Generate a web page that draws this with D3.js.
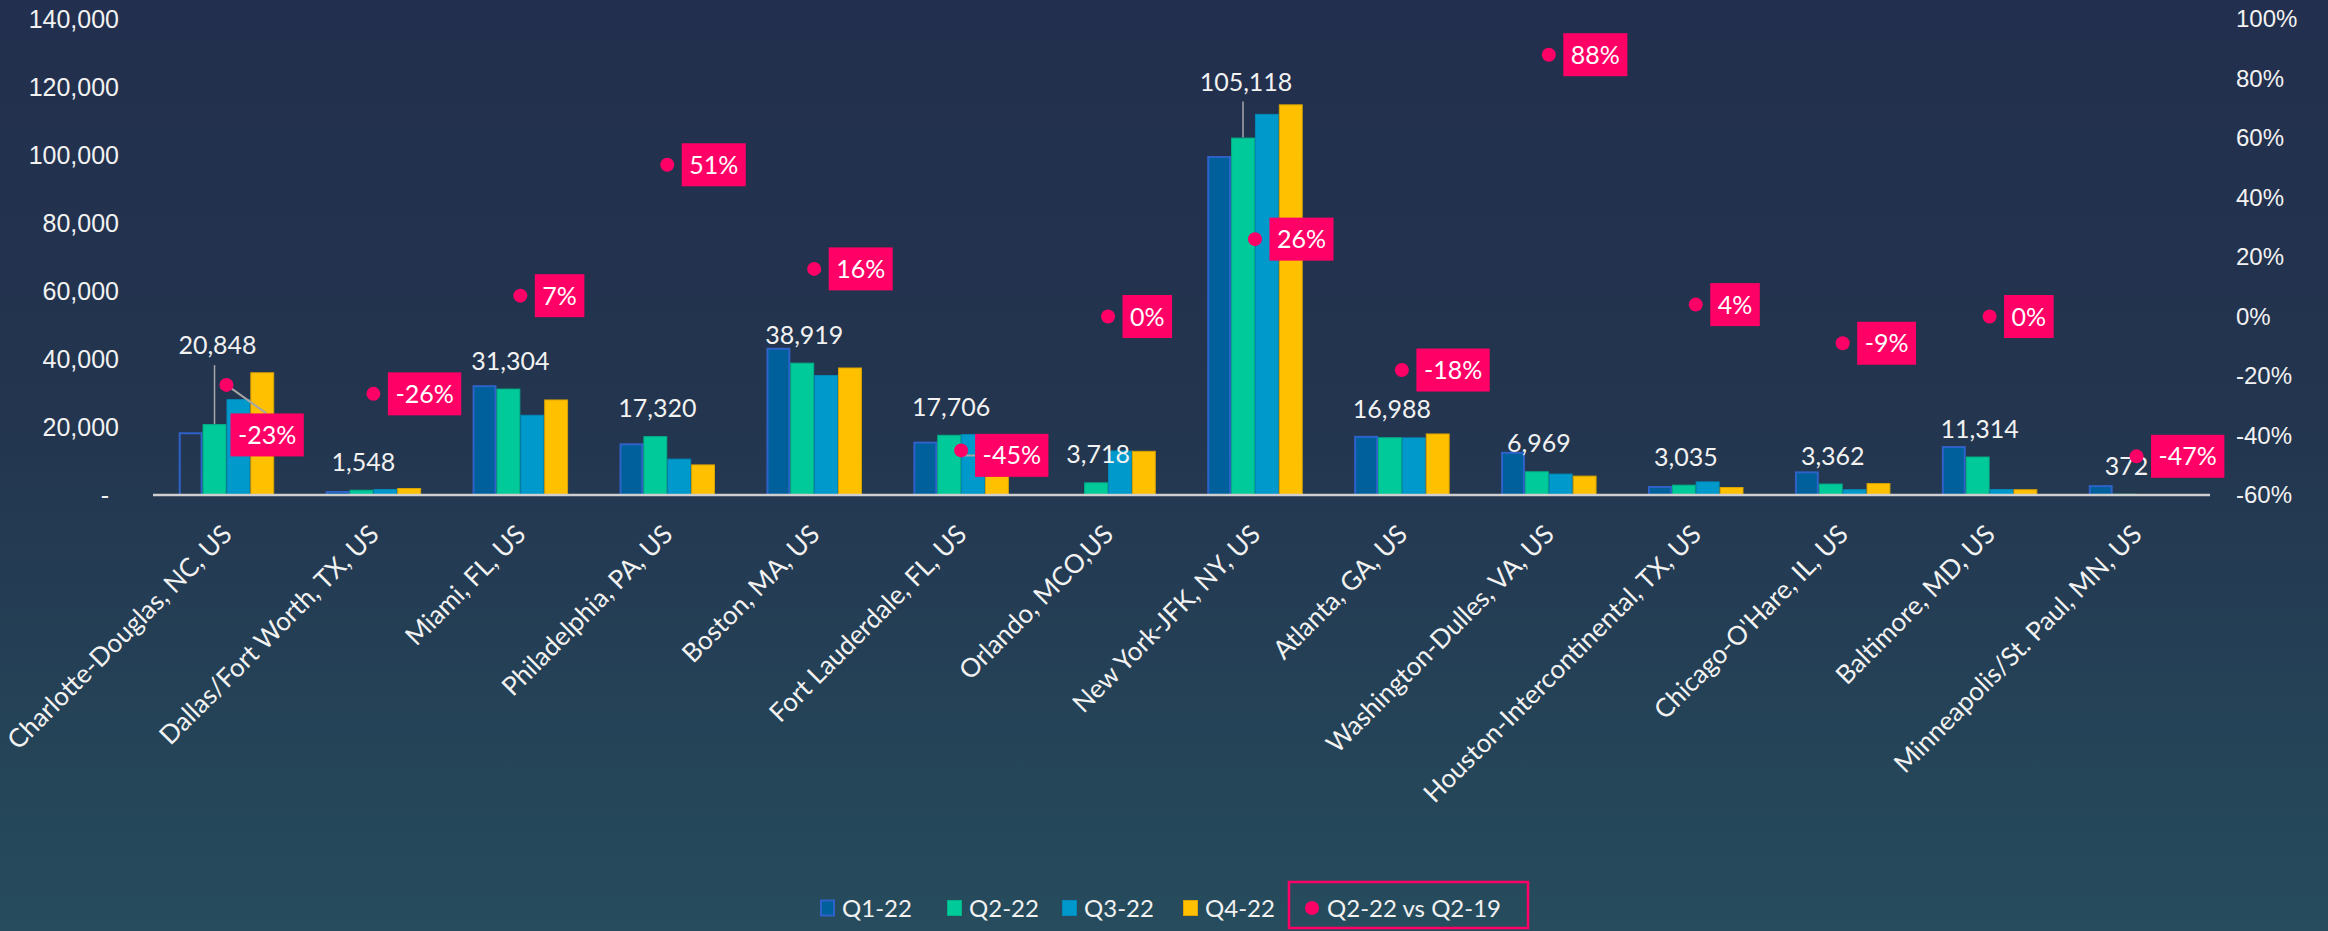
<!DOCTYPE html>
<html>
<head>
<meta charset="utf-8">
<script src="https://cdn.jsdelivr.net/npm/d3@7"></script>
<style>
  body { margin: 0; background: #22304f; }
  svg { display: block; font-family: Lato, "Open Sans", sans-serif; }
</style>
</head>
<body>
<svg id="grafico"></svg>
<script>
// Datos
const aeropuertos = [
  "Charlotte-Douglas, NC, US", "Dallas/Fort Worth, TX, US", "Miami, FL, US",
  "Philadelphia, PA, US", "Boston, MA, US", "Fort Lauderdale, FL, US",
  "Orlando, MCO,US", "New York-JFK, NY, US", "Atlanta, GA, US",
  "Washington-Dulles, VA, US", "Houston-Intercontinental, TX, US",
  "Chicago-O'Hare, IL, US", "Baltimore, MD, US", "Minneapolis/St. Paul, MN, US"
];
const series = ["Q1-22", "Q2-22", "Q3-22", "Q4-22"];
const q1_22 = [18450, 1180, 32300, 15200, 43300, 15700, 0, 99700, 17400, 12700, 2650, 6950, 14400, 2900];
const q2_22 = [20848, 1548, 31304, 17320, 38919, 17706, 3718, 105118, 16988, 6969, 3035, 3362, 11314, 372];
const q3_22 = [28200, 1760, 23600, 10700, 35300, 17900, 13100, 112100, 16950, 6300, 4000, 1700, 1750, 120];
const q4_22 = [36100, 2060, 28100, 9000, 37500, 5600, 13000, 114900, 18100, 5700, 2350, 3500, 1700, 220];
const q2VsQ219 = [-0.23, -0.26, 0.07, 0.51, 0.16, -0.45, 0.00, 0.26, -0.18, 0.88, 0.04, -0.09, 0.00, -0.47];
const ticksIzq = [0, 20000, 40000, 60000, 80000, 100000, 120000, 140000];
const ticksDer = [-0.6, -0.4, -0.2, 0, 0.2, 0.4, 0.6, 0.8, 1.0];
const etiquetaLinea = "Q2-22 vs Q2-19";

const valores = [q1_22, q2_22, q3_22, q4_22];

// Dimensiones
const ancho = 2328, alto = 931;
const margen = { left: 153, right: 118, top: 19, bottom: 436 };
const baseY = alto - margen.bottom;

const colores = ["#00609c", "#00c99a", "#0099cc", "#ffc000"];
const bordes = ["#2f62c8", "#00b288", "#0088b8", "#d9a300"];
const rosa = "#ff0066";

const pct = d => Math.round(d * 100) + "%";

// Ajustes manuales de etiquetas (como en el original)
const subirEtiqueta = { 0: 51, 7: 28 };

const svg = d3.select("#grafico").attr("width", ancho).attr("height", alto);

const grad = svg.append("defs").append("linearGradient")
  .attr("id", "fondo").attr("x1", 0).attr("y1", 0).attr("x2", 0).attr("y2", 1);
grad.append("stop").attr("offset", "0%").attr("stop-color", "#222f4e");
grad.append("stop").attr("offset", "45%").attr("stop-color", "#23354f");
grad.append("stop").attr("offset", "100%").attr("stop-color", "#264c5d");
svg.append("rect").attr("width", ancho).attr("height", alto).attr("fill", "url(#fondo)");

const x0 = d3.scaleBand()
  .domain(aeropuertos)
  .range([margen.left, ancho - margen.right])
  .paddingInner(0.35)
  .paddingOuter(0.175);

const x1 = d3.scaleBand()
  .domain(series)
  .range([0, x0.bandwidth()]);

const y = d3.scaleLinear().domain([0, 140000]).range([baseY, margen.top]);
const yDer = d3.scaleLinear().domain([-0.6, 1.0]).range([baseY, margen.top]);

const centro = a => x0(a) + x0.bandwidth() / 2;

// Ejes
const ejeIzq = svg.append("g")
  .attr("transform", "translate(119,0)")
  .call(d3.axisLeft(y).tickValues(ticksIzq).tickSize(0).tickPadding(0)
    .tickFormat(d => d === 0 ? "-" : d3.format(",")(d)));
ejeIzq.select(".domain").remove();
ejeIzq.selectAll("text")
  .attr("fill", "#f2f2f2").style("font-size", "25px")
  .attr("dx", d => d === 0 ? -10 : 0);

const ejeDer = svg.append("g")
  .attr("transform", "translate(2236,0)")
  .call(d3.axisRight(yDer).tickValues(ticksDer).tickSize(0).tickPadding(0)
    .tickFormat(pct));
ejeDer.select(".domain").remove();
ejeDer.selectAll("text").attr("fill", "#f2f2f2").style("font-size", "24px");

// Barras
const filas = aeropuertos.map((a, i) => ({ a, i, vals: series.map((s, k) => ({ s, k, v: valores[k][i] })) }));

const grupos = svg.selectAll(".grupo")
  .data(filas)
  .enter()
  .append("g")
  .attr("class", "grupo")
  .attr("transform", d => `translate(${x0(d.a)},0)`);

grupos.selectAll("rect")
  .data(d => d.vals.filter(v => v.v > 0).map(v => ({ ...v, i: d.i })))
  .enter()
  .append("rect")
  .attr("x", d => x1(d.s) + (d.k === 0 ? 1 : 0.5))
  .attr("y", d => y(d.v) + (d.k === 0 ? 1 : 0.5))
  .attr("width", d => x1.bandwidth() - (d.k === 0 ? 2 : 1))
  .attr("height", d => Math.max(0, baseY - y(d.v) - (d.k === 0 ? 1 : 0.5)))
  .attr("fill", d => (d.k === 0 && d.i === 0) ? "none" : colores[d.k])
  .attr("stroke", d => bordes[d.k])
  .attr("stroke-width", d => d.k === 0 ? 2 : 1);

// Linea base
svg.append("line")
  .attr("x1", margen.left).attr("x2", ancho - margen.right)
  .attr("y1", baseY).attr("y2", baseY)
  .attr("stroke", "#cfcfcf").attr("stroke-width", 2.5);

// Etiquetas de Q2-22
filas.forEach(d => {
  const v = q2_22[d.i];
  const cx = x0(d.a) + x1("Q2-22") + x1.bandwidth() / 2;
  const sube = subirEtiqueta[d.i] || 0;
  const cy = y(v) - 28 - sube;
  if (sube) {
    svg.append("line")
      .attr("x1", cx).attr("x2", cx)
      .attr("y1", cy + 20).attr("y2", y(v))
      .attr("stroke", "#a6a6a6").attr("stroke-width", 1.5);
  }
  svg.append("text")
    .attr("x", cx + (sube ? 3 : 2))
    .attr("y", cy)
    .attr("dy", "0.36em")
    .attr("text-anchor", "middle")
    .attr("fill", "#f2f2f2")
    .style("font-size", "25px")
    .text(d3.format(",")(v));
});

// Puntos Q2-22 vs Q2-19 y sus etiquetas
const ajustePct = { 0: { dx: 4, dy: 50, guia: true }, 5: { dx: 14, dy: 5, codo: true } };

filas.forEach(d => {
  const p = q2VsQ219[d.i];
  const cx = centro(d.a);
  const cy = yDer(p);
  const aj = ajustePct[d.i] || { dx: 14.5, dy: 0 };
  const h = 43;
  const bx = cx + aj.dx;
  const by = cy + aj.dy - h / 2;
  if (aj.guia) {
    svg.append("line")
      .attr("x1", cx).attr("y1", cy)
      .attr("x2", bx + 36).attr("y2", by)
      .attr("stroke", "#a6a6a6").attr("stroke-width", 2);
  }
  if (aj.codo) {
    svg.append("path")
      .attr("d", `M${cx},${cy} L${cx},${cy + 5} L${bx},${cy + 5}`)
      .attr("fill", "none")
      .attr("stroke", "#a6a6a6").attr("stroke-width", 2);
  }
  const g = svg.append("g");
  const caja = g.append("rect");
  const txt = g.append("text")
    .attr("fill", "#ffffff")
    .attr("text-anchor", "middle")
    .style("font-size", "25px")
    .text(pct(p));
  const w = txt.node().getComputedTextLength() + 15;
  caja.attr("x", bx).attr("y", by)
    .attr("width", w).attr("height", h)
    .attr("fill", rosa);
  txt.attr("x", bx + w / 2).attr("y", by + h / 2).attr("dy", "0.36em");
  svg.append("circle")
    .attr("cx", cx).attr("cy", cy).attr("r", 7)
    .attr("fill", rosa);
});

// Etiquetas eje X
svg.selectAll(".etq-x")
  .data(aeropuertos)
  .enter()
  .append("text")
  .attr("class", "etq-x")
  .attr("transform", a => `translate(${centro(a) + 7},${baseY + 41}) rotate(-45)`)
  .attr("text-anchor", "end")
  .attr("fill", "#f2f2f2")
  .style("font-size", "26px")
  .text(a => a);

// Leyenda
const itemsLeyenda = [
  { nombre: series[0], x: 820 }, { nombre: series[1], x: 947 },
  { nombre: series[2], x: 1062 }, { nombre: series[3], x: 1183 }
];
const leyY = 908;
const leyenda = svg.selectAll(".leyenda")
  .data(itemsLeyenda)
  .enter()
  .append("g")
  .attr("class", "leyenda")
  .attr("transform", d => `translate(${d.x},${leyY})`);

leyenda.append("rect")
  .attr("x", (d, i) => i === 0 ? 1 : 0.5)
  .attr("y", -7.5)
  .attr("width", (d, i) => i === 0 ? 13 : 14)
  .attr("height", 15)
  .attr("fill", (d, i) => colores[i])
  .attr("stroke", (d, i) => bordes[i])
  .attr("stroke-width", (d, i) => i === 0 ? 2 : 1);

leyenda.append("text")
  .attr("x", 22)
  .attr("dy", "0.36em")
  .attr("fill", "#f2f2f2")
  .style("font-size", "24px")
  .text(d => d.nombre);

svg.append("rect")
  .attr("x", 1289).attr("y", 882)
  .attr("width", 239).attr("height", 46)
  .attr("fill", "none")
  .attr("stroke", rosa).attr("stroke-width", 2.5);
svg.append("circle").attr("cx", 1312).attr("cy", leyY).attr("r", 7).attr("fill", rosa);
svg.append("text")
  .attr("x", 1327).attr("y", leyY).attr("dy", "0.36em")
  .attr("fill", "#f2f2f2")
  .style("font-size", "24px")
  .text(etiquetaLinea);
</script>
</body>
</html>
